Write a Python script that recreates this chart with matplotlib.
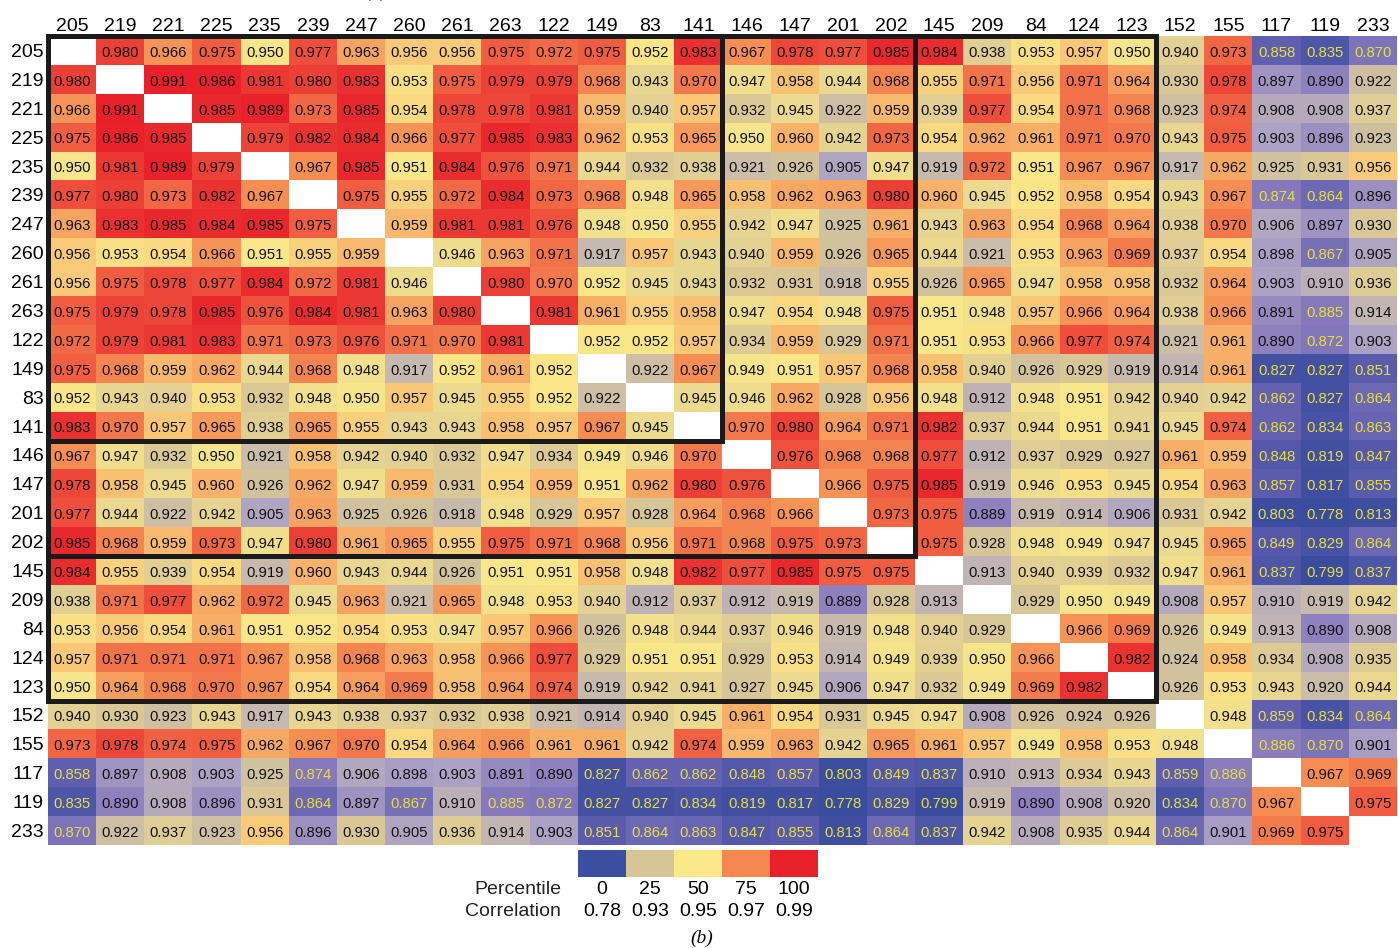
import numpy as np
import matplotlib.pyplot as plt
from matplotlib.colors import LinearSegmentedColormap
from matplotlib.patches import Rectangle

plt.rcParams['font.family'] = ['Liberation Sans', 'DejaVu Sans']

labels = ['205', '219', '221', '225', '235', '239', '247', '260', '261', '263',
          '122', '149', '83', '141', '146', '147', '201', '202', '145', '209',
          '84', '124', '123', '152', '155', '117', '119', '233']

# pairwise correlations, one list per row (None on the diagonal)
corr = [
    [None, .980, .966, .975, .950, .977, .963, .956, .956, .975, .972, .975, .952, .983, .967, .978, .977, .985, .984, .938, .953, .957, .950, .940, .973, .858, .835, .870],
    [.980, None, .991, .986, .981, .980, .983, .953, .975, .979, .979, .968, .943, .970, .947, .958, .944, .968, .955, .971, .956, .971, .964, .930, .978, .897, .890, .922],
    [.966, .991, None, .985, .989, .973, .985, .954, .978, .978, .981, .959, .940, .957, .932, .945, .922, .959, .939, .977, .954, .971, .968, .923, .974, .908, .908, .937],
    [.975, .986, .985, None, .979, .982, .984, .966, .977, .985, .983, .962, .953, .965, .950, .960, .942, .973, .954, .962, .961, .971, .970, .943, .975, .903, .896, .923],
    [.950, .981, .989, .979, None, .967, .985, .951, .984, .976, .971, .944, .932, .938, .921, .926, .905, .947, .919, .972, .951, .967, .967, .917, .962, .925, .931, .956],
    [.977, .980, .973, .982, .967, None, .975, .955, .972, .984, .973, .968, .948, .965, .958, .962, .963, .980, .960, .945, .952, .958, .954, .943, .967, .874, .864, .896],
    [.963, .983, .985, .984, .985, .975, None, .959, .981, .981, .976, .948, .950, .955, .942, .947, .925, .961, .943, .963, .954, .968, .964, .938, .970, .906, .897, .930],
    [.956, .953, .954, .966, .951, .955, .959, None, .946, .963, .971, .917, .957, .943, .940, .959, .926, .965, .944, .921, .953, .963, .969, .937, .954, .898, .867, .905],
    [.956, .975, .978, .977, .984, .972, .981, .946, None, .980, .970, .952, .945, .943, .932, .931, .918, .955, .926, .965, .947, .958, .958, .932, .964, .903, .910, .936],
    [.975, .979, .978, .985, .976, .984, .981, .963, .980, None, .981, .961, .955, .958, .947, .954, .948, .975, .951, .948, .957, .966, .964, .938, .966, .891, .885, .914],
    [.972, .979, .981, .983, .971, .973, .976, .971, .970, .981, None, .952, .952, .957, .934, .959, .929, .971, .951, .953, .966, .977, .974, .921, .961, .890, .872, .903],
    [.975, .968, .959, .962, .944, .968, .948, .917, .952, .961, .952, None, .922, .967, .949, .951, .957, .968, .958, .940, .926, .929, .919, .914, .961, .827, .827, .851],
    [.952, .943, .940, .953, .932, .948, .950, .957, .945, .955, .952, .922, None, .945, .946, .962, .928, .956, .948, .912, .948, .951, .942, .940, .942, .862, .827, .864],
    [.983, .970, .957, .965, .938, .965, .955, .943, .943, .958, .957, .967, .945, None, .970, .980, .964, .971, .982, .937, .944, .951, .941, .945, .974, .862, .834, .863],
    [.967, .947, .932, .950, .921, .958, .942, .940, .932, .947, .934, .949, .946, .970, None, .976, .968, .968, .977, .912, .937, .929, .927, .961, .959, .848, .819, .847],
    [.978, .958, .945, .960, .926, .962, .947, .959, .931, .954, .959, .951, .962, .980, .976, None, .966, .975, .985, .919, .946, .953, .945, .954, .963, .857, .817, .855],
    [.977, .944, .922, .942, .905, .963, .925, .926, .918, .948, .929, .957, .928, .964, .968, .966, None, .973, .975, .889, .919, .914, .906, .931, .942, .803, .778, .813],
    [.985, .968, .959, .973, .947, .980, .961, .965, .955, .975, .971, .968, .956, .971, .968, .975, .973, None, .975, .928, .948, .949, .947, .945, .965, .849, .829, .864],
    [.984, .955, .939, .954, .919, .960, .943, .944, .926, .951, .951, .958, .948, .982, .977, .985, .975, .975, None, .913, .940, .939, .932, .947, .961, .837, .799, .837],
    [.938, .971, .977, .962, .972, .945, .963, .921, .965, .948, .953, .940, .912, .937, .912, .919, .889, .928, .913, None, .929, .950, .949, .908, .957, .910, .919, .942],
    [.953, .956, .954, .961, .951, .952, .954, .953, .947, .957, .966, .926, .948, .944, .937, .946, .919, .948, .940, .929, None, .966, .969, .926, .949, .913, .890, .908],
    [.957, .971, .971, .971, .967, .958, .968, .963, .958, .966, .977, .929, .951, .951, .929, .953, .914, .949, .939, .950, .966, None, .982, .924, .958, .934, .908, .935],
    [.950, .964, .968, .970, .967, .954, .964, .969, .958, .964, .974, .919, .942, .941, .927, .945, .906, .947, .932, .949, .969, .982, None, .926, .953, .943, .920, .944],
    [.940, .930, .923, .943, .917, .943, .938, .937, .932, .938, .921, .914, .940, .945, .961, .954, .931, .945, .947, .908, .926, .924, .926, None, .948, .859, .834, .864],
    [.973, .978, .974, .975, .962, .967, .970, .954, .964, .966, .961, .961, .942, .974, .959, .963, .942, .965, .961, .957, .949, .958, .953, .948, None, .886, .870, .901],
    [.858, .897, .908, .903, .925, .874, .906, .898, .903, .891, .890, .827, .862, .862, .848, .857, .803, .849, .837, .910, .913, .934, .943, .859, .886, None, .967, .969],
    [.835, .890, .908, .896, .931, .864, .897, .867, .910, .885, .872, .827, .827, .834, .819, .817, .778, .829, .799, .919, .890, .908, .920, .834, .870, .967, None, .975],
    [.870, .922, .937, .923, .956, .896, .930, .905, .936, .914, .903, .851, .864, .863, .847, .855, .813, .864, .837, .942, .908, .935, .944, .864, .901, .969, .975, None],
]

# nested group boundaries (number of leading entries in each block)
blocks = [14, 18, 23]

cb_percentiles = [0, 25, 50, 75, 100]
cb_correlations = ['0.78', '0.93', '0.95', '0.97', '0.99']

# blue -> lavender -> tan -> yellow -> orange -> red
cmap = LinearSegmentedColormap.from_list('pct', [
    (0.00, '#3a4c9e'),
    (0.05, '#5b5cae'),
    (0.09, '#8579bb'),
    (0.125, '#aca2c4'),
    (0.18, '#c6b9b0'),
    (0.25, '#d6c597'),
    (0.50, '#fbe98a'),
    (0.75, '#f68a52'),
    (1.00, '#e8202a'),
])
cmap.set_bad('white')
key_colors = ['#3c4ea0', '#d6c597', '#fbe98a', '#f68a52', '#e8202a']
key_cmap = LinearSegmentedColormap.from_list('key', key_colors)

mat = np.array([[np.nan if v is None else v for v in row] for row in corr])
n = len(labels)

# colour by percentile rank among all off-diagonal values
offdiag = np.sort(mat[~np.isnan(mat)])
pct = np.full_like(mat, np.nan)
mask = ~np.isnan(mat)
pct[mask] = np.searchsorted(offdiag, mat[mask], side='left') / (len(offdiag) - 1)

fig = plt.figure(figsize=(13.98, 9.48), dpi=100)
ax = fig.add_axes([48 / 1398, 1 - 845 / 948, 1349 / 1398, 809 / 948])
ax.imshow(np.ma.masked_invalid(pct), cmap=cmap, vmin=0, vmax=1,
          aspect='auto', interpolation='nearest')

for i in range(n):
    for j in range(n):
        v = mat[i, j]
        if np.isnan(v):
            continue
        tc = '#e6df3c' if v < 0.887 else '#111111'
        ax.text(j, i + 0.08, f'{v:.3f}', ha='center', va='center',
                fontsize=10.7, color=tc)

for b in blocks:
    ax.add_patch(Rectangle((-0.5, -0.5), b, b, fill=False,
                           edgecolor='#1a1a1a', linewidth=3.6, zorder=5,
                           clip_on=False))

ax.xaxis.tick_top()
ax.set_xticks(range(n))
ax.set_xticklabels(labels, fontsize=14)
ax.set_yticks(range(n))
ax.set_yticklabels(labels, fontsize=14)
ax.tick_params(length=0, pad=3)
ax.tick_params(axis='x', pad=1)
for s in ax.spines.values():
    s.set_visible(False)

# percentile colour key
cax = fig.add_axes([578 / 1398, 1 - 877 / 948, 240 / 1398, 27 / 948])
cax.imshow([np.array(cb_percentiles) / 100], cmap=key_cmap, vmin=0, vmax=1,
           aspect='auto')
cax.set_yticks([])
cax.set_xticks(range(len(cb_percentiles)))
cax.set_xticklabels([f'{p}\n{c}' for p, c in zip(cb_percentiles, cb_correlations)],
                    fontsize=14, linespacing=1.4)
cax.tick_params(length=0, pad=3)
for s in cax.spines.values():
    s.set_visible(False)
cax.annotate('Percentile\nCorrelation', xy=(0, 0), xycoords='axes fraction',
             xytext=(-12, -3), textcoords='offset points', ha='right', va='top',
             fontsize=14, linespacing=1.4, multialignment='right', color='#222222')

fig.text(701.7 / 1398, 1 - 938 / 948, '(b)', ha='center', va='center',
         fontsize=14, family='Liberation Serif', style='italic')
fig.text(377 / 1398, 1 + 8 / 948, '(a)', ha='center', va='center',
         fontsize=14, family='Liberation Serif', style='italic')

fig.savefig('out.png', dpi=100)
